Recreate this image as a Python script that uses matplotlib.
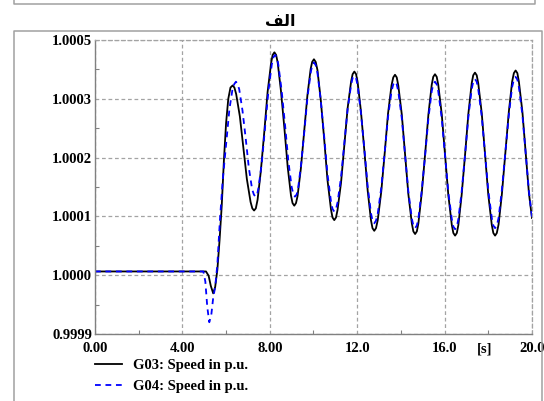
import matplotlib
matplotlib.use("Agg")
import matplotlib.pyplot as plt
from matplotlib.lines import Line2D
import numpy as np

# G03 speed trace (time in s, speed in p.u.)
time_g03 = [0.00, 5.08, 5.20, 5.30, 5.41, 5.50, 5.60, 5.70, 5.80, 5.90, 6.00, 6.10, 6.20,
            6.30, 6.38, 6.46, 6.63, 6.79, 6.95, 7.12, 7.20,
            7.28, 7.36, 7.44, 7.59, 7.75, 7.90, 8.06, 8.13,
            8.21, 8.29, 8.36, 8.51, 8.67, 8.82, 8.97, 9.04,
            9.12, 9.20, 9.27, 9.42, 9.57, 9.72, 9.87, 9.94,
            10.02, 10.10, 10.18, 10.33, 10.49, 10.64, 10.80, 10.87,
            10.95, 11.03, 11.10, 11.26, 11.41, 11.56, 11.72, 11.79,
            11.87, 11.95, 12.02, 12.17, 12.33, 12.48, 12.63, 12.70,
            12.78, 12.86, 12.94, 13.10, 13.26, 13.41, 13.57, 13.65,
            13.73, 13.81, 13.88, 14.04, 14.19, 14.34, 14.50, 14.57,
            14.65, 14.73, 14.80, 14.95, 15.11, 15.26, 15.41, 15.48,
            15.56, 15.64, 15.71, 15.87, 16.02, 16.17, 16.33, 16.40,
            16.48, 16.56, 16.63, 16.78, 16.94, 17.09, 17.24, 17.31,
            17.39, 17.47, 17.54, 17.70, 17.85, 18.00, 18.16, 18.23,
            18.31, 18.39, 18.47, 18.62, 18.78, 18.94, 19.09, 19.17,
            19.25, 19.33, 19.40, 19.56, 19.71, 19.86, 20.00]
speed_g03 = [1.000017, 1.000017, 1.000009, 0.999990, 0.999976, 0.999988, 1.000020, 1.000075,
             1.000140, 1.000225, 1.000295, 1.000340, 1.000361,
             1.000365, 1.000361, 1.000349, 1.000307, 1.000248, 1.000190, 1.000147, 1.000135,
             1.000131, 1.000135, 1.000151, 1.000205, 1.000279, 1.000353, 1.000407, 1.000422,
             1.000427, 1.000422, 1.000408, 1.000355, 1.000284, 1.000212, 1.000159, 1.000145,
             1.000140, 1.000145, 1.000158, 1.000209, 1.000277, 1.000346, 1.000396, 1.000409,
             1.000414, 1.000409, 1.000394, 1.000339, 1.000264, 1.000188, 1.000133, 1.000118,
             1.000113, 1.000118, 1.000132, 1.000183, 1.000252, 1.000322, 1.000372, 1.000386,
             1.000391, 1.000386, 1.000371, 1.000317, 1.000242, 1.000168, 1.000113, 1.000098,
             1.000093, 1.000098, 1.000113, 1.000166, 1.000239, 1.000312, 1.000365, 1.000380,
             1.000385, 1.000380, 1.000365, 1.000311, 1.000236, 1.000162, 1.000107, 1.000092,
             1.000087, 1.000092, 1.000107, 1.000162, 1.000237, 1.000311, 1.000366, 1.000381,
             1.000386, 1.000381, 1.000366, 1.000311, 1.000235, 1.000160, 1.000104, 1.000089,
             1.000084, 1.000089, 1.000104, 1.000160, 1.000237, 1.000313, 1.000369, 1.000384,
             1.000389, 1.000384, 1.000369, 1.000313, 1.000237, 1.000160, 1.000104, 1.000089,
             1.000084, 1.000089, 1.000105, 1.000161, 1.000239, 1.000316, 1.000372, 1.000388,
             1.000393, 1.000388, 1.000372, 1.000316, 1.000239, 1.000163, 1.000117]

# G04 speed trace
time_g04 = [0.00, 4.96, 5.05, 5.14, 5.23, 5.32, 5.41, 5.50, 5.60, 5.72, 5.85, 6.00, 6.15,
            6.30, 6.38,
            6.45, 6.52, 6.60, 6.75, 6.90, 7.04, 7.19, 7.27,
            7.34, 7.42, 7.49, 7.64, 7.79, 7.94, 8.09, 8.17,
            8.24, 8.32, 8.39, 8.54, 8.70, 8.85, 9.00, 9.08,
            9.15, 9.23, 9.30, 9.44, 9.59, 9.73, 9.88, 9.95,
            10.02, 10.10, 10.18, 10.33, 10.49, 10.64, 10.80, 10.87,
            10.95, 11.03, 11.10, 11.26, 11.41, 11.56, 11.72, 11.79,
            11.87, 11.95, 12.02, 12.17, 12.33, 12.48, 12.63, 12.70,
            12.78, 12.86, 12.94, 13.10, 13.26, 13.41, 13.57, 13.65,
            13.73, 13.81, 13.88, 14.04, 14.19, 14.34, 14.50, 14.57,
            14.65, 14.73, 14.80, 14.95, 15.11, 15.26, 15.41, 15.48,
            15.56, 15.64, 15.71, 15.87, 16.02, 16.17, 16.33, 16.40,
            16.48, 16.56, 16.63, 16.78, 16.94, 17.09, 17.24, 17.31,
            17.39, 17.47, 17.54, 17.70, 17.85, 18.00, 18.16, 18.23,
            18.31, 18.39, 18.47, 18.62, 18.78, 18.94, 19.09, 19.17,
            19.25, 19.33, 19.40, 19.56, 19.71, 19.86, 20.00]
speed_g04 = [1.000017, 1.000017, 0.999998, 0.999950, 0.999922, 0.999935, 0.999968, 0.999988,
             1.000030, 1.000115, 1.000190, 1.000255, 1.000320,
             1.000360, 1.000368,
             1.000372, 1.000368, 1.000358, 1.000318, 1.000265, 1.000211, 1.000171, 1.000161,
             1.000157, 1.000161, 1.000175, 1.000223, 1.000290, 1.000356, 1.000404, 1.000418,
             1.000422, 1.000418, 1.000404, 1.000356, 1.000290, 1.000223, 1.000175, 1.000161,
             1.000157, 1.000161, 1.000174, 1.000220, 1.000283, 1.000345, 1.000391, 1.000404,
             1.000408, 1.000403, 1.000389, 1.000338, 1.000269, 1.000199, 1.000148, 1.000134,
             1.000129, 1.000134, 1.000146, 1.000193, 1.000256, 1.000320, 1.000366, 1.000379,
             1.000383, 1.000378, 1.000365, 1.000314, 1.000245, 1.000176, 1.000126, 1.000112,
             1.000107, 1.000112, 1.000125, 1.000173, 1.000240, 1.000306, 1.000354, 1.000367,
             1.000372, 1.000367, 1.000354, 1.000304, 1.000235, 1.000167, 1.000116, 1.000103,
             1.000098, 1.000103, 1.000116, 1.000167, 1.000235, 1.000304, 1.000354, 1.000367,
             1.000372, 1.000367, 1.000354, 1.000303, 1.000234, 1.000165, 1.000115, 1.000101,
             1.000096, 1.000101, 1.000115, 1.000166, 1.000237, 1.000307, 1.000358, 1.000372,
             1.000377, 1.000372, 1.000358, 1.000307, 1.000238, 1.000168, 1.000117, 1.000103,
             1.000098, 1.000103, 1.000117, 1.000169, 1.000240, 1.000310, 1.000362, 1.000376,
             1.000381, 1.000376, 1.000362, 1.000310, 1.000239, 1.000167, 1.000118]

series_labels = ["G03: Speed in p.u.", "G04: Speed in p.u."]
x_ticks = [0, 4, 8, 12, 16, 20]
x_tick_labels = ["0.00", "4.00", "8.00", "12.0", "16.0", "20.0"]
y_ticks = [0.99990, 1.00001, 1.00012, 1.00023, 1.00034, 1.00045]
y_tick_labels = ["0.9999", "1.0000", "1.0001", "1.0002", "1.0003", "1.0005"]
title_text = "\ufed2\ufedf\u0627"  # "الف" in shaped, left-to-right glyph order

W, H = 544, 401
grid_grey = "#a3a3a3"
frame_grey = "#a0a0a0"
tick_font = dict(family="Liberation Serif", weight="bold", size=10.5)

fig = plt.figure(figsize=(W / 100, H / 100), dpi=100, facecolor="white")


def fx(px):
    return px / W


def fy(py):
    return 1 - py / H


# surrounding panel frames
for xs, ys in [([14, 14, 535, 535], [0, 3.5, 3.5, 0]),
               ([14, 14, 542, 542], [402, 31, 31, 402])]:
    fig.add_artist(Line2D([fx(v) for v in xs], [fy(v) for v in ys],
                          transform=fig.transFigure, color=frame_grey, lw=1.1))

ax = fig.add_axes([fx(95), fy(334), fx(532) - fx(95), fy(40) - fy(334)])
ax.set_axisbelow(True)

line_g03, = ax.plot(time_g03, speed_g03, color="black", lw=1.3, label=series_labels[0])
line_g04, = ax.plot(time_g04, speed_g04, color="#0000ff", lw=1.3,
                    linestyle=(0, (3.2, 2.6)), label=series_labels[1])

ax.set_xlim(0, 20)
ax.set_ylim(y_ticks[0], y_ticks[-1])
ax.set_xticks(x_ticks)
ax.set_xticklabels(x_tick_labels, **tick_font)
ax.set_yticks(y_ticks)
ax.set_yticklabels(y_tick_labels, **tick_font)
ax.set_xticks(np.array(x_ticks[:-1]) + 2, minor=True)
ax.set_yticks((np.array(y_ticks[:-1]) + np.array(y_ticks[1:])) / 2, minor=True)

ax.tick_params(which="major", length=0)
ax.tick_params(axis="y", which="major", pad=2)
ax.tick_params(axis="x", which="major", pad=6)
ax.tick_params(which="minor", direction="in", length=3, width=0.8, color="#808080")

ax.grid(True, which="major", color=grid_grey, linestyle=(0, (3, 2.2)), linewidth=0.9)
for side in ["top", "right"]:
    ax.spines[side].set_linestyle((0, (3, 2.2)))
    ax.spines[side].set_color(grid_grey)
    ax.spines[side].set_linewidth(0.9)
for side in ["left", "bottom"]:
    ax.spines[side].set_color("#808080")
    ax.spines[side].set_linewidth(1.0)

# unit marker sits in the tick-label row
ax.annotate("[s]", xy=(17.85, 0), xycoords=("data", "axes fraction"),
            xytext=(0, -6), textcoords="offset points", ha="center", va="top", **tick_font)

fig.text(fx(280), fy(22), title_text, ha="center", va="center",
         family="DejaVu Sans", weight="bold", size=11.5)

fig.legend(handles=[line_g03, line_g04], loc="upper left",
           bbox_to_anchor=(fx(95), fy(359)), frameon=False, borderpad=0,
           borderaxespad=0, handlelength=1.85, handletextpad=0.75, labelspacing=0.5,
           prop=dict(family="Liberation Serif", weight="bold", size=10.5))

fig.savefig("out.png", dpi=100, facecolor="white")
